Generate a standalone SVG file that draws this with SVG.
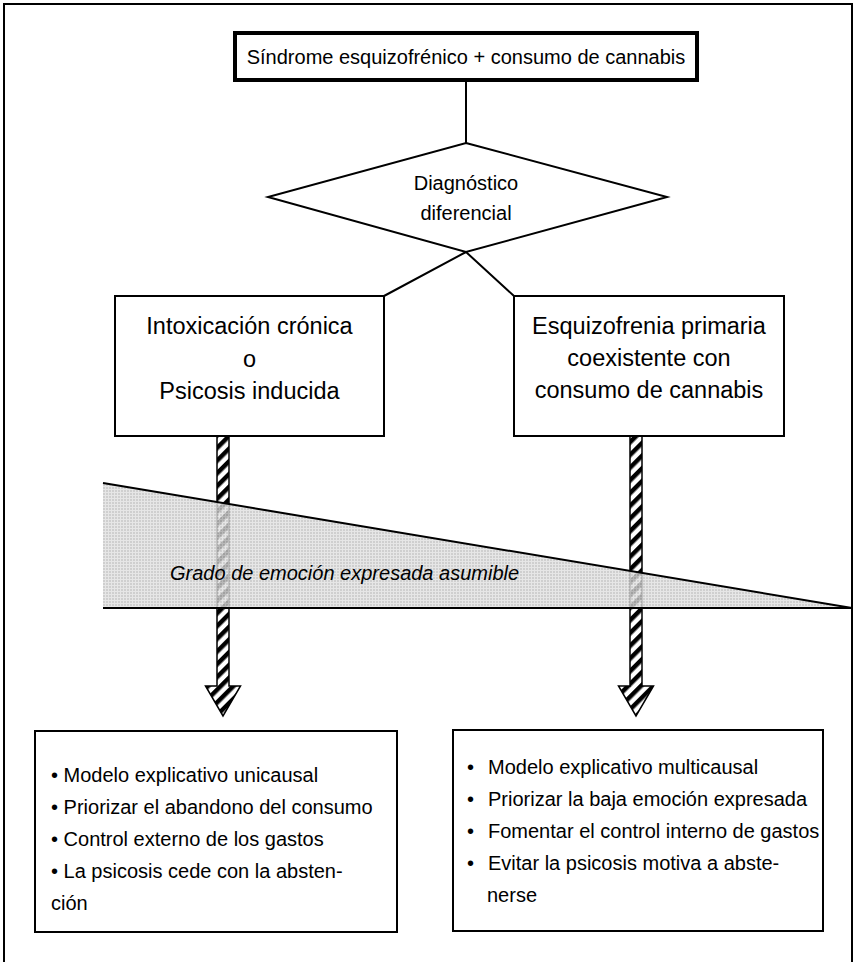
<svg xmlns="http://www.w3.org/2000/svg" width="855" height="962" viewBox="0 0 855 962">
<style>
 text{font-family:"Liberation Sans",Arial,sans-serif;font-size:20px;fill:#000}
 .c{text-anchor:middle}
 .mid{font-size:23.5px}
 .box{fill:#fff;stroke:#000;stroke-width:2}
 .ln{stroke:#000;stroke-width:2;fill:none}
 .arrow{fill:url(#stripes);stroke:#000;stroke-width:1.5}
</style>
<defs>
 <pattern id="stripes" patternUnits="userSpaceOnUse" width="9" height="9" patternTransform="rotate(45)">
  <rect width="9" height="9" fill="#fff"/>
  <rect width="4.5" height="9" fill="#000"/>
 </pattern>
 <pattern id="mesh" patternUnits="userSpaceOnUse" width="3" height="3">
  <rect width="3" height="3" fill="#c4c4c4"/>
  <path d="M0 0.5H3M0.5 0V3" stroke="#e0e0e0" stroke-width="1"/>
 </pattern>
</defs>
<rect width="855" height="962" fill="#fff"/>
<path d="M4 964V4H852V964" class="ln" stroke-width="2.5"/>

<g id="connectors">
 <path d="M466 80V143" class="ln"/>
 <path d="M466 252L384 296M466 252L514 296" class="ln"/>
 <path class="arrow" d="M217 436H229V686H240.5L223 716L205.5 686H217Z"/>
 <path class="arrow" d="M630 436H642V686H653.5L636 716L618.5 686H630Z"/>
</g>

<g id="gradient-scale">
 <polygon points="103,483 852,608 103,608" fill="url(#mesh)" fill-opacity="0.82"/>
 <path d="M103 483L852 608M103 608H852" class="ln" stroke-width="2.5"/>
 <text x="170" y="580" font-style="italic">Grado de emoción expresada asumible</text>
</g>

<g id="start">
 <rect x="235" y="33" width="462" height="47" fill="#fff" stroke="#000" stroke-width="4"/>
 <text class="c" x="466" y="64">Síndrome esquizofrénico + consumo de cannabis</text>
</g>

<g id="decision">
 <polygon points="466,143 667,197 466,252 268,197" class="box"/>
 <text class="c" x="466" y="190">Diagnóstico</text>
 <text class="c" x="466" y="220">diferencial</text>
</g>

<g id="left-diagnosis">
 <rect x="115" y="296" width="269" height="140" class="box"/>
 <text class="c mid" x="249.5" y="334">Intoxicación crónica</text>
 <text class="c mid" x="249.5" y="367">o</text>
 <text class="c mid" x="249.5" y="399">Psicosis inducida</text>
</g>

<g id="right-diagnosis">
 <rect x="514" y="296" width="270" height="140" class="box"/>
 <text class="c mid" x="649" y="334">Esquizofrenia primaria</text>
 <text class="c mid" x="649" y="366">coexistente con</text>
 <text class="c mid" x="649" y="398">consumo de cannabis</text>
</g>

<g id="left-management">
 <rect x="35" y="731" width="362" height="201" class="box"/>
 <text x="51" y="782">• Modelo explicativo unicausal</text>
 <text x="51" y="814">• Priorizar el abandono del consumo</text>
 <text x="51" y="846">• Control externo de los gastos</text>
 <text x="51" y="878">• La psicosis cede con la absten-</text>
 <text x="51" y="910">ción</text>
</g>

<g id="right-management">
 <rect x="453" y="730" width="370" height="201" class="box"/>
 <text x="467" y="774">•</text>
 <text x="488" y="774">Modelo explicativo multicausal</text>
 <text x="467" y="806">•</text>
 <text x="488" y="806">Priorizar la baja emoción expresada</text>
 <text x="467" y="838">•</text>
 <text x="488" y="838">Fomentar el control interno de gastos</text>
 <text x="467" y="870">•</text>
 <text x="488" y="870">Evitar la psicosis motiva a abste-</text>
 <text x="487" y="902">nerse</text>
</g>
</svg>
